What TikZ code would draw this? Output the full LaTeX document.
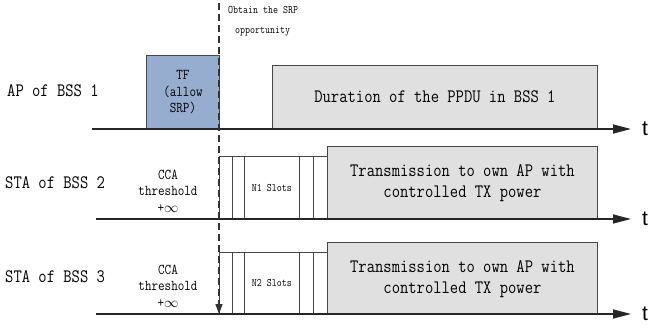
\documentclass[tikz,border=0pt]{standalone}
\usepackage{fontspec}
\newfontfamily\mono[FakeStretch=0.85]{Latin Modern Mono}
\newfontfamily\tsans{Liberation Sans}
\usetikzlibrary{arrows.meta}
\definecolor{tfblue}{RGB}{150,173,207}
\definecolor{boxgray}{RGB}{224,224,224}
\definecolor{edge}{RGB}{70,70,70}
\tikzset{
  timeline/.style={line width=1.5pt, draw=black!85, -{Triangle[length=18pt,width=9pt]}},
  tlabel/.style={font=\tsans\fontsize{21}{24}\selectfont, anchor=west, inner sep=0pt},
  rowlabel/.style={font=\mono\fontsize{19}{20}\selectfont, anchor=west, inner sep=0pt},
  smalltxt/.style={font=\mono\fontsize{15}{16.5}\selectfont, align=center, inner sep=0pt},
  tinytxt/.style={font=\mono\fontsize{11.4}{12}\selectfont, inner sep=0pt},
  bigtxt/.style={font=\mono\fontsize{19}{21}\selectfont, align=center, inner sep=0pt},
  boxbase/.style={draw=edge, line width=0.9pt, inner sep=0pt, anchor=south west},
  slotbox/.style={boxbase, fill=white},
  graybox/.style={boxbase, fill=boxgray},
  srpline/.style={line width=1.4pt, draw=black!80, dash pattern=on 7pt off 4pt, -{Triangle[length=10pt,width=7pt]}}
}
\begin{document}
\begin{tikzpicture}[x=1pt,y=-1pt]
\useasboundingbox (0,0) rectangle (654,329);

% row labels
\node[rowlabel] (lab1) at (7,91) {AP of BSS 1};
\node[rowlabel] (lab2) at (5,183) {STA of BSS 2};
\node[rowlabel] (lab3) at (5,277) {STA of BSS 3};

% row 1 boxes
\node[boxbase, fill=tfblue, minimum width=73pt, minimum height=73pt] (tf) at (146,129) {};
\node[smalltxt] at (tf.center) {TF\\(allow\\SRP)};
\node[graybox, minimum width=325pt, minimum height=63pt] (ppdu) at (272,129) {};
\node[bigtxt] at (ppdu.center) {Duration of the PPDU in BSS 1};

% row 2 slots
\node[slotbox, minimum width=13pt, minimum height=62pt] (s2a) at (219,219) {};
\node[slotbox, minimum width=12pt, minimum height=62pt] (s2b) at (232,219) {};
\node[slotbox, minimum width=55pt, minimum height=62pt] (n1) at (244,219) {};
\node[tinytxt] at (n1.center) {N1 Slots};
\node[slotbox, minimum width=14pt, minimum height=62pt] (s2c) at (299,219) {};
\node[slotbox, minimum width=14pt, minimum height=62pt] (s2d) at (313,219) {};
\node[graybox, minimum width=270pt, minimum height=72pt] (tx2) at (327,219) {};
\node[bigtxt] at ([yshift=-1pt]tx2.center) {Transmission to own AP with\\controlled TX power};
\node[smalltxt] (cca2) at (168,191) {CCA\\threshold\\+$\infty$};

% row 3 slots
\node[slotbox, minimum width=13pt, minimum height=61pt] (s3a) at (219,314) {};
\node[slotbox, minimum width=12pt, minimum height=61pt] (s3b) at (232,314) {};
\node[slotbox, minimum width=55pt, minimum height=61pt] (n2) at (244,314) {};
\node[tinytxt] at (n2.center) {N2 Slots};
\node[slotbox, minimum width=14pt, minimum height=61pt] (s3c) at (299,314) {};
\node[slotbox, minimum width=14pt, minimum height=61pt] (s3d) at (313,314) {};
\node[graybox, minimum width=270pt, minimum height=71pt] (tx3) at (327,314) {};
\node[bigtxt] at ([yshift=-1pt]tx3.center) {Transmission to own AP with\\controlled TX power};
\node[smalltxt] (cca3) at (168,286) {CCA\\threshold\\+$\infty$};

% timelines
\coordinate (l1s) at (92,129);  \coordinate (l1e) at (631,129);
\coordinate (l2s) at (96,219);  \coordinate (l2e) at (631,219);
\coordinate (l3s) at (96,314);  \coordinate (l3e) at (631,314);
\draw[timeline] (l1s) -- (l1e);
\draw[timeline] (l2s) -- (l2e);
\draw[timeline] (l3s) -- (l3e);
\node[tlabel] (t1) at (642,129) {t};
\node[tlabel] (t2) at (642,219) {t};
\node[tlabel] (t3) at (642,314) {t};

% SRP dashed line
\coordinate (srptop) at (219,3);
\coordinate (srpbot) at (219,314);
\draw[srpline] (srptop) -- (srpbot);
\node[tinytxt, anchor=west] (obt) at (228,10) {Obtain the SRP};
\node[tinytxt, anchor=west] (opp) at (235,31) {opportunity};
\end{tikzpicture}
\end{document}
